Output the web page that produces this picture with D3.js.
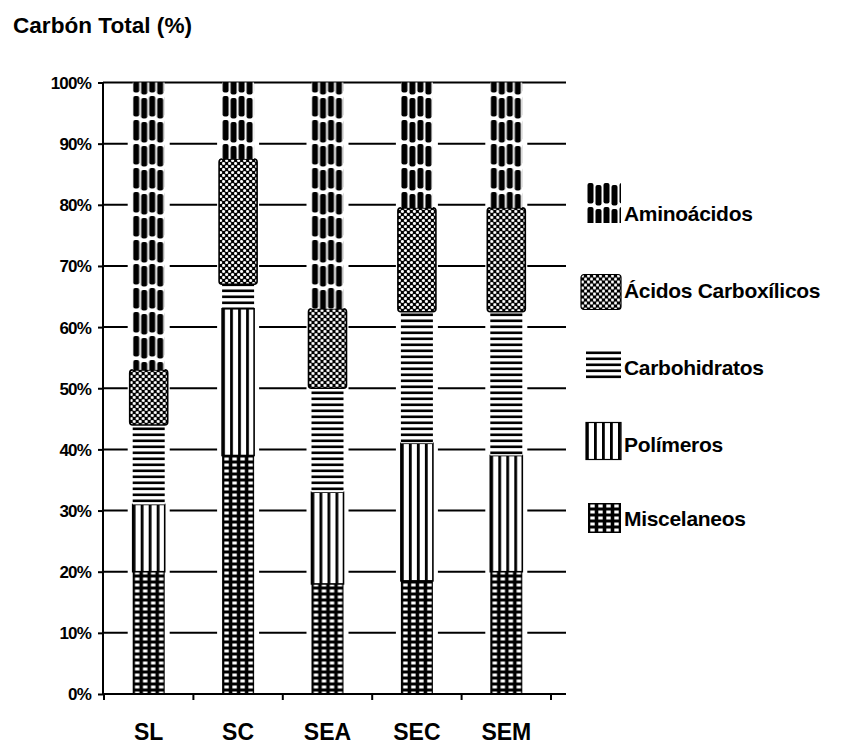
<!DOCTYPE html>
<html>
<head>
<meta charset="utf-8">
<script src="https://cdn.jsdelivr.net/npm/d3@7/dist/d3.min.js"></script>
<style>
  body { margin: 0; background: #fff; }
  text { font-family: "Liberation Sans", Arial, Helvetica, sans-serif; font-weight: bold; fill: #000; }
</style>
</head>
<body>
<svg id="chart" width="843" height="745"></svg>
<script>
// Carbon fractions (% of total carbon) per sample
const categories = ["SL", "SC", "SEA", "SEC", "SEM"];
const miscelaneos        = [20, 39, 18, 18.5, 20];
const polimeros          = [11, 24, 15, 22.5, 19];
const carbohidratos      = [13, 4, 17, 21.5, 23.5];
const acidosCarboxilicos = [9, 20.5, 13, 17, 17];
const aminoacidos        = [47, 12.5, 37, 20.5, 20.5];

// Stack order, bottom to top
const seriesNames = ["Miscelaneos", "Polímeros", "Carbohidratos", "Ácidos Carboxílicos", "Aminoácidos"];
// Legend order, top to bottom
const legendNames = ["Aminoácidos", "Ácidos Carboxílicos", "Carbohidratos", "Polímeros", "Miscelaneos"];
const yTickValues = [0, 10, 20, 30, 40, 50, 60, 70, 80, 90, 100];
const titleText = "Carbón Total (%)";

const seriesValues = {
  "Miscelaneos": miscelaneos,
  "Polímeros": polimeros,
  "Carbohidratos": carbohidratos,
  "Ácidos Carboxílicos": acidosCarboxilicos,
  "Aminoácidos": aminoacidos
};
const rows = categories.map((c, i) => {
  const r = { cat: c };
  seriesNames.forEach(k => r[k] = seriesValues[k][i]);
  return r;
});

const svg = d3.select("#chart");
const defs = svg.append("defs");

// Black-and-white fill patterns, one per series
const patId = {
  "Aminoácidos": "p-amino",
  "Ácidos Carboxílicos": "p-acid",
  "Carbohidratos": "p-carb",
  "Polímeros": "p-poli",
  "Miscelaneos": "p-misc"
};
{
  // vertical capsules with short breaks, slightly offset column to column
  const p = defs.append("pattern").attr("id", "p-amino").attr("patternUnits", "userSpaceOnUse")
    .attr("width", 16).attr("height", 24);
  p.append("rect").attr("width", 16).attr("height", 24).attr("fill", "#fff");
  p.append("rect").attr("x", 0.5).attr("y", 0).attr("width", 6).attr("height", 20.5).attr("rx", 2).attr("fill", "#000");
  p.append("rect").attr("x", 8.5).attr("y", 2).attr("width", 6).attr("height", 20.5).attr("rx", 2).attr("fill", "#000");
  p.append("rect").attr("x", 8.5).attr("y", -22).attr("width", 6).attr("height", 20.5).attr("rx", 2).attr("fill", "#000");
}
{
  // black with staggered white dots
  const p = defs.append("pattern").attr("id", "p-acid").attr("patternUnits", "userSpaceOnUse")
    .attr("width", 6).attr("height", 6);
  p.append("rect").attr("width", 6).attr("height", 6).attr("fill", "#000");
  p.append("circle").attr("cx", 1.5).attr("cy", 1.5).attr("r", 1.55).attr("fill", "#fff");
  p.append("circle").attr("cx", 4.5).attr("cy", 4.5).attr("r", 1.55).attr("fill", "#fff");
}
{
  // horizontal lines
  const p = defs.append("pattern").attr("id", "p-carb").attr("patternUnits", "userSpaceOnUse")
    .attr("width", 8).attr("height", 6);
  p.append("rect").attr("width", 8).attr("height", 6).attr("fill", "#fff");
  p.append("rect").attr("x", 0).attr("y", 1.5).attr("width", 8).attr("height", 2.6).attr("fill", "#000");
}
{
  // vertical lines
  const p = defs.append("pattern").attr("id", "p-poli").attr("patternUnits", "userSpaceOnUse")
    .attr("width", 8).attr("height", 8);
  p.append("rect").attr("width", 8).attr("height", 8).attr("fill", "#fff");
  p.append("rect").attr("x", 0).attr("y", 0).attr("width", 2.8).attr("height", 8).attr("fill", "#000");
}
{
  // black grid with small white cells
  const p = defs.append("pattern").attr("id", "p-misc").attr("patternUnits", "userSpaceOnUse")
    .attr("width", 8).attr("height", 6);
  p.append("rect").attr("width", 8).attr("height", 6).attr("fill", "#000");
  p.append("rect").attr("x", 2.3).attr("y", 1.5).attr("width", 4.4).attr("height", 3).attr("fill", "#fff");
}

// Scales
const x = d3.scaleBand().domain(categories).range([104, 551]).paddingInner(0).paddingOuter(0);
const y = d3.scaleLinear().domain([0, 100]).range([694, 82.5]);
const axisLeftX = 103, axisRightX = 566;
const barW = 32;

// Title
svg.append("text").attr("x", 13).attr("y", 33)
  .attr("font-size", 22).attr("textLength", 179).attr("lengthAdjust", "spacingAndGlyphs")
  .text(titleText);

// Gridlines
svg.append("g").selectAll("line").data(yTickValues.filter(v => v > 0)).join("line")
  .attr("x1", axisLeftX).attr("x2", axisRightX)
  .attr("y1", d => y(d)).attr("y2", d => y(d))
  .attr("stroke", "#000").attr("stroke-width", 2);

// Stacked bars
const stacked = d3.stack().keys(seriesNames)(rows);
const barG = svg.append("g").selectAll("g").data(categories).join("g")
  .attr("transform", c => `translate(${x(c) + x.bandwidth() / 2 - barW / 2},0)`);

// white clearance around each column
barG.append("rect")
  .attr("x", -5).attr("width", barW + 10)
  .attr("y", y(100) + 2).attr("height", y(0) - y(100) - 2)
  .attr("fill", "#fff");

stacked.forEach(layer => {
  const key = layer.key;
  const wide = key === "Ácidos Carboxílicos" ? 3 : 0;
  barG.append("rect")
    .datum((c, i) => layer[i])
    .attr("x", -wide).attr("width", barW + 2 * wide)
    .attr("y", d => y(d[1]))
    .attr("height", d => y(d[0]) - y(d[1]))
    .attr("fill", `url(#${patId[key]})`)
    .attr("stroke", key === "Ácidos Carboxílicos" || key === "Polímeros" ? "#000" : "none")
    .attr("stroke-width", 1.6)
    .attr("rx", key === "Ácidos Carboxílicos" ? 3 : 0);
});

// Y axis
const yAxis = svg.append("g").attr("transform", `translate(${axisLeftX},0)`)
  .call(d3.axisLeft(y).tickValues(yTickValues).tickFormat(d => d + "%").tickSize(5).tickPadding(8));
yAxis.select(".domain").remove();
yAxis.selectAll(".tick line").attr("stroke", "#000").attr("stroke-width", 2);
yAxis.selectAll(".tick text").attr("font-size", 17).attr("font-family", null)
  .attr("x", -12).attr("dy", "0.35em").style("letter-spacing", "-0.8px");
svg.append("line").attr("x1", axisLeftX).attr("x2", axisLeftX)
  .attr("y1", y(100)).attr("y2", y(0)).attr("stroke", "#000").attr("stroke-width", 2);

// X axis
svg.append("line").attr("x1", axisLeftX).attr("x2", axisRightX)
  .attr("y1", y(0)).attr("y2", y(0)).attr("stroke", "#000").attr("stroke-width", 2);
const boundaries = categories.map(c => x(c)).concat([x.range()[1]]);
svg.append("g").selectAll("line").data(boundaries).join("line")
  .attr("x1", d => d).attr("x2", d => d)
  .attr("y1", y(0)).attr("y2", y(0) + 6)
  .attr("stroke", "#000").attr("stroke-width", 2);
svg.append("g").selectAll("text").data(categories).join("text")
  .attr("x", c => x(c) + x.bandwidth() / 2)
  .attr("y", 740)
  .attr("text-anchor", "middle")
  .attr("font-size", 23)
  .text(c => c);

// Legend
const legendBaselines = [221, 298, 375, 452, 526];
const swatchW = [34, 40, 35, 35, 33];
const swatchH = [40, 35, 30, 37, 30];
const swatchMid = [-18, -6, -10, -11, -8];
const legend = svg.append("g").selectAll("g").data(legendNames).join("g")
  .attr("transform", (d, i) => `translate(0,${legendBaselines[i]})`);
legend.append("g")
  .attr("transform", (d, i) => `translate(${621 - swatchW[i]},${swatchMid[i] - swatchH[i] / 2})`)
  .append("rect")
  .attr("width", (d, i) => swatchW[i]).attr("height", (d, i) => swatchH[i])
  .attr("fill", d => `url(#${patId[d]})`)
  .attr("stroke", d => d === "Ácidos Carboxílicos" || d === "Polímeros" ? "#000" : "none")
  .attr("stroke-width", 1.2)
  .attr("rx", d => d === "Ácidos Carboxílicos" ? 3 : 0);
legend.append("text")
  .attr("x", 624).attr("y", 0)
  .attr("font-size", 21)
  .style("letter-spacing", "-0.3px")
  .text(d => d);
</script>
</body>
</html>
